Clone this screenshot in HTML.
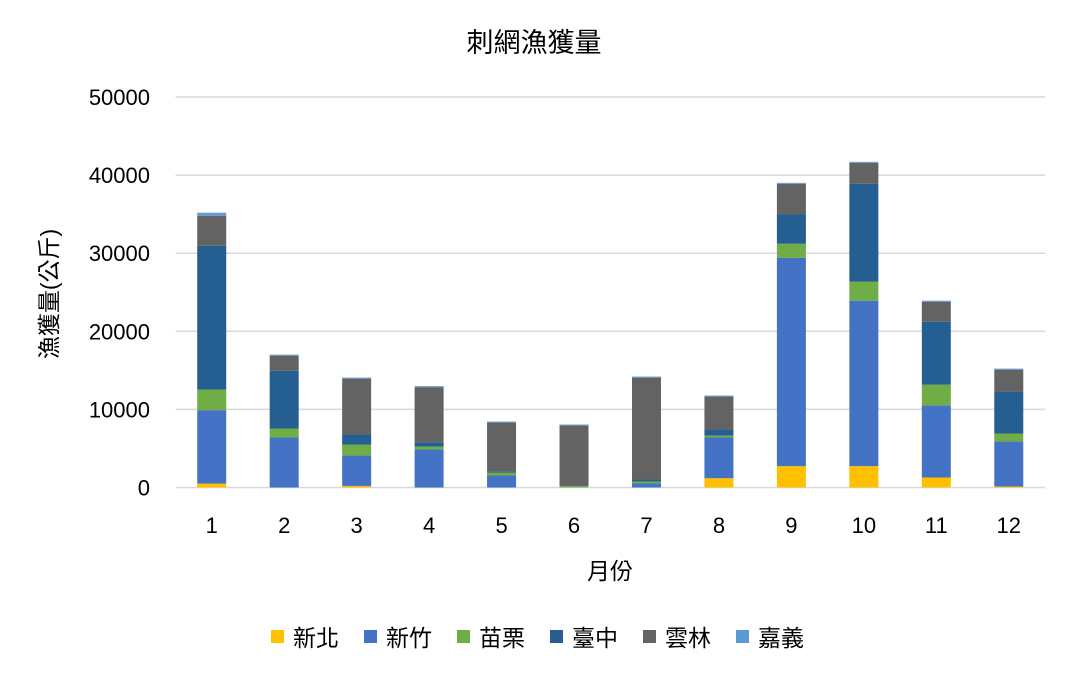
<!DOCTYPE html>
<html><head><meta charset="utf-8"><style>
body{margin:0;background:#fff;}
svg text{font-family:"Liberation Sans","Noto Sans CJK TC",sans-serif;fill:#000;}
</style></head><body>
<svg id="chart" width="1069" height="673">
<text x="534" y="52" font-size="27" text-anchor="middle">刺網漁獲量</text>
<text transform="translate(57,294) rotate(-90)" font-size="23" text-anchor="middle">漁獲量(公斤)</text>
<text x="610" y="579" font-size="23" text-anchor="middle">月份</text>
<g id="grid"></g><g id="bars"></g><g id="ticks"></g><g id="legend"></g>
</svg>
<script>
const categories=["1","2","3","4","5","6","7","8","9","10","11","12"];
const seriesNames=["新北","新竹","苗栗","臺中","雲林","嘉義"];
const xinbei=[500,0,200,0,0,0,0,1190,2730,2730,1280,130];
const xinzhu=[9400,6400,3890,4860,1535,0,510,5210,26690,21190,9210,5750];
const miaoli=[2640,1150,1410,380,385,170,260,250,1790,2430,2690,1030];
const taichung=[18420,7410,1280,560,160,0,250,770,3750,12530,8050,5370];
const yunlin=[3840,1920,7160,7050,6230,7760,13050,4220,3920,2690,2560,2810];
const chiayi=[380,130,130,130,130,130,130,130,130,130,130,130];
const yTicks=[0,10000,20000,30000,40000,50000];
const colors=["#FFC000","#4472C4","#70AD47","#255E91","#636363","#5B9BD5"];
const series=[xinbei,xinzhu,miaoli,taichung,yunlin,chiayi];
const NS="http://www.w3.org/2000/svg";
const L=175.5,R=1045,Y0=487.5,YT=97;
const y=v=>Y0-(v/50000)*(Y0-YT);
const band=(R-L)/categories.length;
const xc=i=>L+band*(i+0.5);
function mk(t,a,p){const e=document.createElementNS(NS,t);for(const k in a)e.setAttribute(k,a[k]);p.appendChild(e);return e;}
const grid=document.getElementById('grid'),ticks=document.getElementById('ticks'),bars=document.getElementById('bars'),leg=document.getElementById('legend');
yTicks.forEach(t=>{
 const l=mk('line',{x1:L,x2:R,y1:y(t),y2:y(t),stroke:'#d9d9d9','stroke-width':1.5},grid);
 
 
 const tx=mk('text',{x:150,y:y(t)+8,'font-size':22,'text-anchor':'end'},ticks);tx.textContent=t;
 
 
});
categories.forEach((c,i)=>{
 let cum=0;
 series.forEach((s,k)=>{
  const v=s[i];const r=mk('rect',{x:xc(i)-14.5,width:29,y:y(cum+v),height:Math.max(0,y(cum)-y(cum+v)),fill:colors[k]},bars);
  
  
  cum+=v;
 });
 const tx=mk('text',{x:xc(i),y:533,'font-size':22,'text-anchor':'middle'},ticks);tx.textContent=c;
 
 
});
seriesNames.forEach((n,k)=>{
 const x0=271+k*93;
 const g=mk('g',{},leg);
 
 
 mk('rect',{x:x0,y:630,width:13,height:13,fill:colors[k]},g);
 const t=mk('text',{x:x0+22,y:646,'font-size':23},g);t.textContent=n;
});
</script>
</body></html>
